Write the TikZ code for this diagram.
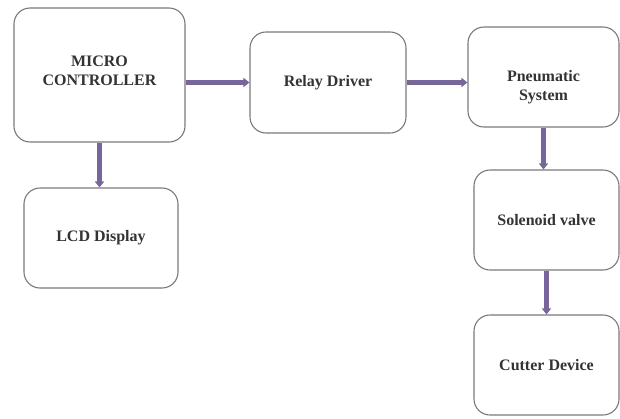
\documentclass[tikz,border=0pt]{standalone}
\usepackage{fontspec}
\setmainfont{Liberation Serif}
\usepackage{tikz}
\usetikzlibrary{arrows.meta}
\usetikzlibrary{calc}

\definecolor{boxgray}{HTML}{7A7A7A}
\definecolor{arrowpurple}{HTML}{76669A}

\begin{document}
\begin{tikzpicture}[x=1pt, y=1pt,
  every node/.style={inner sep=2pt},
  block/.style={draw=boxgray, line width=1.1pt, rounded corners=16pt, align=center,
    font=\fontsize{16}{19}\selectfont\bfseries, text=black!80},
  flow/.style={draw=arrowpurple, line width=5pt, -{Triangle[length=6pt,width=9pt]}}]
\useasboundingbox (0,0) rectangle (620,-418);
% blocks
\node [block, minimum width=171, minimum height=134] (mc) at (99.5,-75) {MICRO\\CONTROLLER\rule[-8pt]{0pt}{1pt}};
\node [block, minimum width=156, minimum height=101] (relay) at (328,-82.5) {Relay Driver};
\node [block, minimum width=151, minimum height=100] (pneu) at (543.5,-77) {\rule{0pt}{32pt}Pneumatic\\System};
\node [block, minimum width=154, minimum height=100] (lcd) at (101,-238) {LCD Display};
\node [block, minimum width=145, minimum height=100] (sol) at (546.5,-220) {Solenoid valve};
\node [block, minimum width=145, minimum height=100] (cut) at (546.5,-365) {Cutter Device};
% arrows
\draw [flow] (mc.east |- relay.west) -- (relay.west);
\draw [flow] (relay.east) -- (pneu.west |- relay.east);
\draw [flow] (mc.south) -- (mc.south |- lcd.north);
\draw [flow] (pneu.south) -- (pneu.south |- sol.north);
\draw [flow] (sol.south) -- (cut.north);
\end{tikzpicture}
\end{document}
